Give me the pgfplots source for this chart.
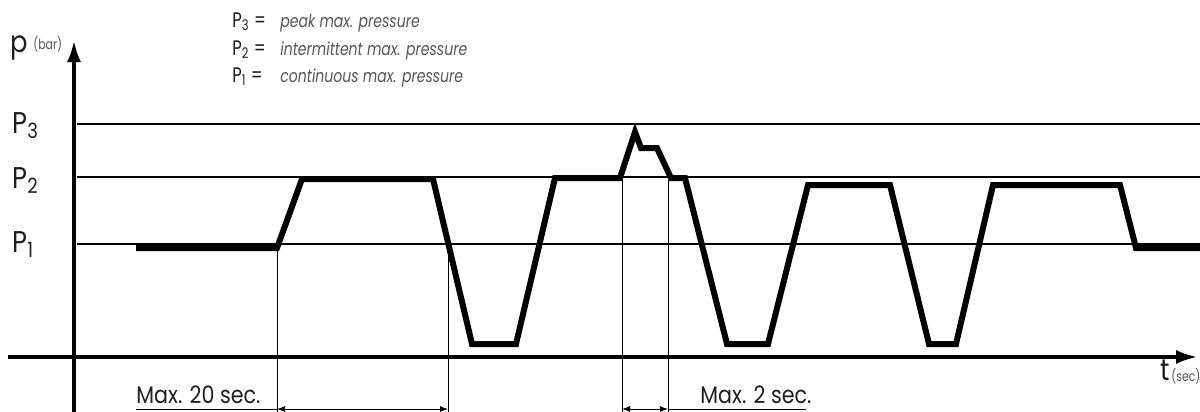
\documentclass[border=0pt]{standalone}
\usepackage{pgfplots}
\pgfplotsset{compat=1.18}
\usepackage{fontspec}
\setmainfont{Poppins}
\newfontfamily\cond{Poppins}[FakeStretch=0.78]
\newfontfamily\semicond{Poppins}[FakeStretch=0.86]
\usetikzlibrary{arrows.meta}
\definecolor{txt}{HTML}{1E1E1E}
\definecolor{leg}{HTML}{555555}

\begin{document}
\begin{tikzpicture}
\begin{axis}[width=600pt, height=206pt, scale only axis,
    xmin=0, xmax=1200, ymin=0, ymax=412, y dir=reverse,
    axis lines=none, clip=false]
  % pressure levels P3, P2, P1
  \addplot[black, line width=0.6pt] coordinates {(77,124) (1200,124)};
  \addplot[black, line width=0.6pt] coordinates {(77,177) (1200,177)};
  \addplot[black, line width=0.6pt] coordinates {(77,244) (1200,244)};

  % dimension helpers
  \addplot[black, line width=0.5pt] coordinates {(277,248) (277,412)};
  \addplot[black, line width=0.5pt] coordinates {(448,244) (448,412)};
  \addplot[black, line width=0.5pt] coordinates {(622,180) (622,412)};
  \addplot[black, line width=0.5pt] coordinates {(668,180) (668,412)};
  \addplot[black, line width=0.5pt] coordinates {(136,409) (277,409)};
  \addplot[black, line width=0.5pt] coordinates {(668,409) (806,409)};
  \addplot[black, line width=0.5pt, {Latex[length=4pt,width=3pt]}-{Latex[length=4pt,width=3pt]}]
    coordinates {(277,409) (448,409)};
  \addplot[black, line width=0.5pt, {Latex[length=4pt,width=3pt]}-{Latex[length=4pt,width=3pt]}]
    coordinates {(622,409) (668,409)};

  % pressure signal
  \addplot[black, line width=3pt, line join=miter] coordinates {
    (136,248) (277,248) (302,179) (433,179) (472,344) (516,344)
    (555,178) (620,178) (635,132) (641,148) (657,148) (671,178)
    (685,178) (727,344) (768,344) (808,185) (890,185) (929,344)
    (956,344) (993,185) (1120,185) (1136,248) (1200,248)
  };

  % axes
  \draw[line width=2pt, -{Latex[length=11pt,width=7pt]}] (axis cs:74,412) -- (axis cs:74,40);
  \draw[line width=2pt, -{Latex[length=11pt,width=7pt]}] (axis cs:8,357) -- (axis cs:1198,357);

  % labels
  \node[anchor=base west, text=txt, font=\semicond\fontsize{15}{15}\selectfont, inner sep=0pt] at (axis cs:10,52) {p};
  \node[anchor=base west, text=leg, font=\cond\fontsize{7}{7}\selectfont, inner sep=0pt] at (axis cs:33,49) {(bar)};
  \node[anchor=base west, text=leg, font=\cond\fontsize{7}{7}\selectfont, inner sep=0pt] at (axis cs:1171,381) {(sec)};
  \node[anchor=base west, text=txt, font=\semicond\fontsize{15}{15}\selectfont, inner sep=0pt] at (axis cs:1160,380) {t};

  \node[anchor=base west, text=txt, font=\semicond\fontsize{15}{15}\selectfont, inner sep=0pt] at (axis cs:12,133) {P\textsubscript{3}};
  \node[anchor=base west, text=txt, font=\semicond\fontsize{15}{15}\selectfont, inner sep=0pt] at (axis cs:12,188) {P\textsubscript{2}};
  \node[anchor=base west, text=txt, font=\semicond\fontsize{15}{15}\selectfont, inner sep=0pt] at (axis cs:12,252) {P\textsubscript{1}};

  \node[anchor=base west, text=txt, font=\cond\fontsize{10.5}{10.5}\selectfont, inner sep=0pt] at (axis cs:232,27) {P\textsubscript{3} =};
  \node[anchor=base west, text=txt, font=\cond\fontsize{10.5}{10.5}\selectfont, inner sep=0pt] at (axis cs:232,55) {P\textsubscript{2} =};
  \node[anchor=base west, text=txt, font=\cond\fontsize{10.5}{10.5}\selectfont, inner sep=0pt] at (axis cs:232,82) {P\textsubscript{1} =};
  \node[anchor=base west, text=leg, font=\cond\fontsize{9}{9}\selectfont\itshape, inner sep=0pt] at (axis cs:280,27) {peak max. pressure};
  \node[anchor=base west, text=leg, font=\cond\fontsize{9}{9}\selectfont\itshape, inner sep=0pt] at (axis cs:280,55) {intermittent max. pressure};
  \node[anchor=base west, text=leg, font=\cond\fontsize{9}{9}\selectfont\itshape, inner sep=0pt] at (axis cs:280,82) {continuous max. pressure};

  \node[anchor=base west, text=txt, font=\semicond\fontsize{12}{12}\selectfont, inner sep=0pt] at (axis cs:136,403) {Max. 20 sec.};
  \node[anchor=base west, text=txt, font=\semicond\fontsize{12}{12}\selectfont, inner sep=0pt] at (axis cs:700,403) {Max. 2 sec.};
\end{axis}
\pgfresetboundingbox
\path (current axis.south west) rectangle (current axis.north east);
\end{tikzpicture}
\end{document}
